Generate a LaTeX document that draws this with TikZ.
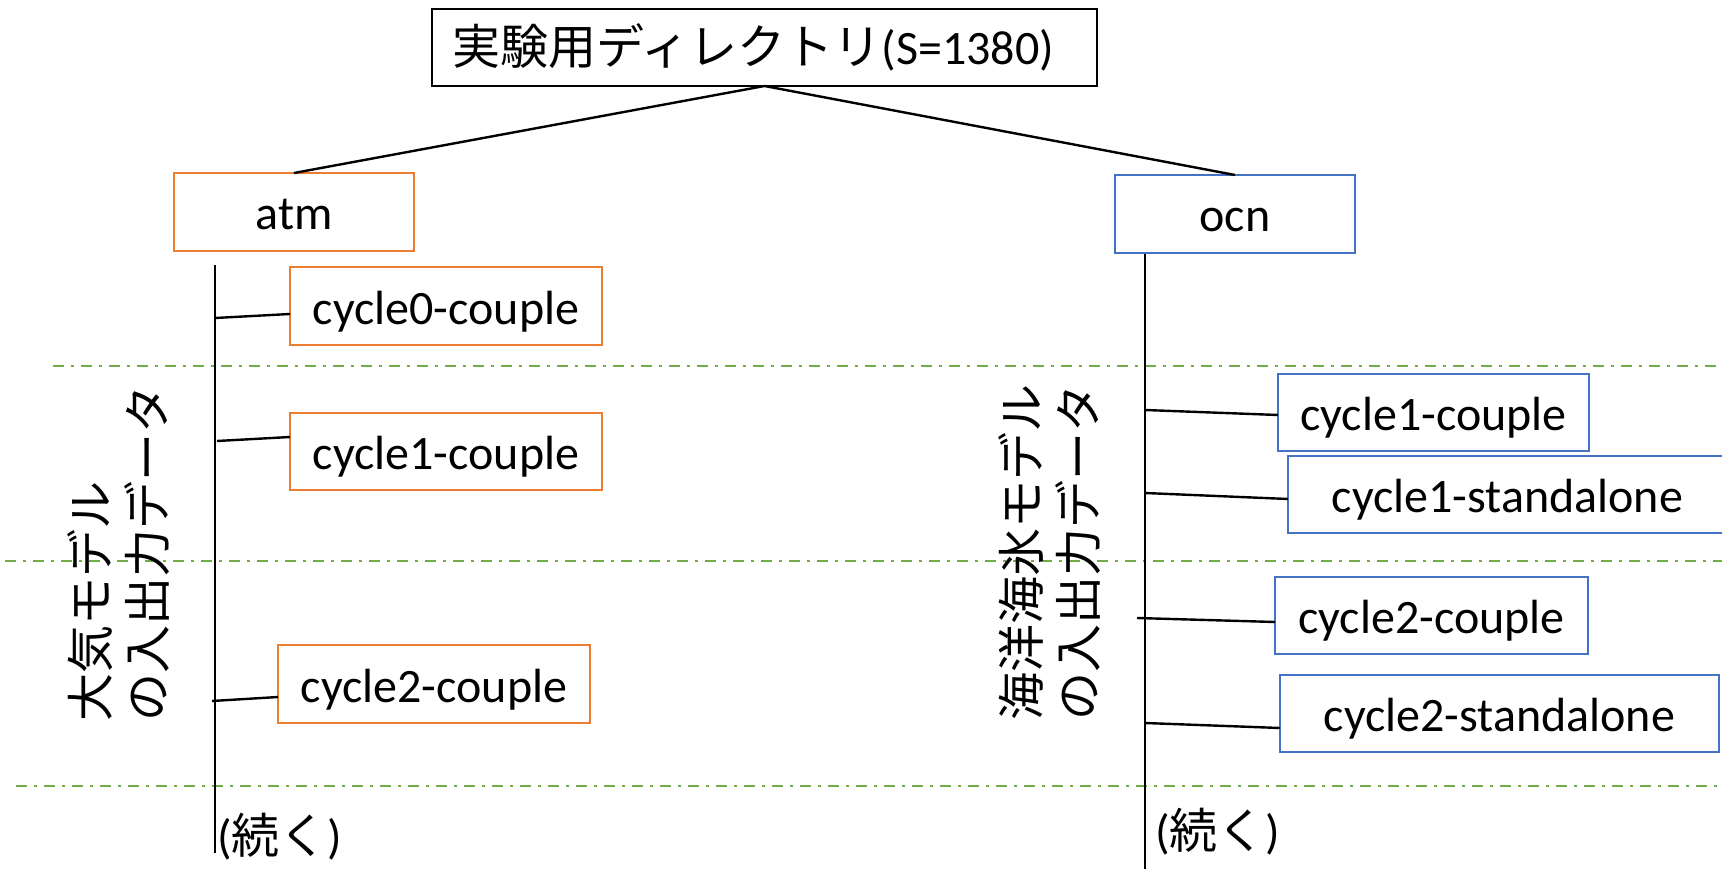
\documentclass[tikz,border=0pt]{standalone}
\usepackage{fontspec}
\setmainfont{Carlito}
\newfontfamily\jp{Noto Sans CJK JP}
\definecolor{orng}{HTML}{ED7D31}
\definecolor{blu}{HTML}{4472C4}
\definecolor{grn}{HTML}{70AD47}
\begin{document}
\begin{tikzpicture}[x=1pt,y=-1pt,
  txt/.style={font=\fontsize{48}{57}\selectfont},
  box/.style={draw, line width=2.8pt, inner sep=0pt, outer sep=0pt, txt, fill=white, text height=40pt, text depth=4pt},
  abox/.style={box, draw=orng},
  obox/.style={box, draw=blu},
  conn/.style={line width=2.4pt, black},
  sep/.style={grn, line width=2.8pt, dash pattern=on 11pt off 7pt on 3pt off 7pt}
]
\useasboundingbox (0,0) rectangle (1722,869);
\fill[white] (0,0) rectangle (1722,869);
% separators
\draw[sep] (53,366) -- (1722,366);
\draw[sep] (5,561) -- (1722,561);
\draw[sep] (16,786) -- (1722,786);
% vertical lines
\coordinate (lt) at (215,265); \coordinate (lb) at (215,853);
\coordinate (rt) at (1145,248); \coordinate (rb) at (1145,869);
\draw[conn] (lt) -- (lb);
\draw[conn] (rt) -- (rb);
% top
\node[box, draw=black, minimum width=665pt, minimum height=77pt, text depth=6pt] (top) at (764.5,47.5) {\hspace*{-22pt}{\jp 実験用ディレクトリ}(S=1380)};
\node[abox, minimum width=240pt, minimum height=78pt] (atm) at (294,212) {atm};
\node[obox, minimum width=240pt, minimum height=78pt] (ocn) at (1235,214) {ocn};
\draw[conn] (top.south) -- (atm.north);
\draw[conn] (top.south) -- (ocn.north);
% atm children
\node[abox, minimum width=312pt, minimum height=78pt] (a0) at (446,306) {cycle0-couple};
\node[abox, minimum width=312pt, minimum height=77pt] (a1) at (446,451.5) {cycle1-couple};
\node[abox, minimum width=312pt, minimum height=78pt] (a2) at (434,684) {cycle2-couple};
\coordinate (a0s) at (215,318);
\coordinate (a1s) at (217,441);
\coordinate (a2s) at (212,701);
\draw[conn] (a0s) -- ([yshift=-8pt]a0.west);
\draw[conn] (a1s) -- ([yshift=14.5pt]a1.west);
\draw[conn] (a2s) -- ([yshift=-13pt]a2.west);
% ocn children
\node[obox, minimum width=311pt, minimum height=77pt] (o1c) at (1433.5,412.5) {cycle1-couple};
\node[obox, minimum width=439pt, minimum height=77pt] (o1s) at (1507.5,494.5) {cycle1-standalone};
\node[obox, minimum width=313pt, minimum height=77pt] (o2c) at (1431.5,615.5) {cycle2-couple};
\node[obox, minimum width=439pt, minimum height=77pt] (o2s) at (1499.5,713.5) {cycle2-standalone};
\coordinate (o1cs) at (1145,410);
\coordinate (o1ss) at (1145,493);
\coordinate (o2cs) at (1137,618);
\coordinate (o2ss) at (1145,723);
\draw[conn] (o1cs) -- ([yshift=-2.5pt]o1c.west);
\draw[conn] (o1ss) -- ([yshift=-4.5pt]o1s.west);
\draw[conn] (o2cs) -- ([yshift=-6.5pt]o2c.west);
\draw[conn] (o2ss) -- ([yshift=-14.5pt]o2s.west);
% vertical labels
\node[txt, rotate=90, align=left, inner sep=0pt] (la) at (118.5,553) {\jp 大気モデル\\\jp の入出力データ};
\node[txt, rotate=90, align=left, inner sep=0pt] (lo) at (1050,552) {\jp 海洋海氷モデル\\\jp の入出力データ};
% continued
\node[txt, anchor=west, inner sep=0pt] (ca) at (217,837) {({\jp 続く})};
\node[txt, anchor=west, inner sep=0pt] (co) at (1155,832) {({\jp 続く})};
\end{tikzpicture}
\end{document}
